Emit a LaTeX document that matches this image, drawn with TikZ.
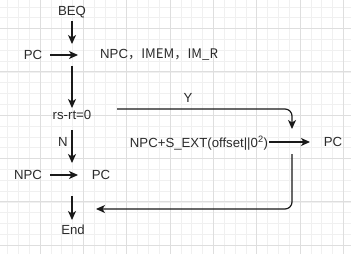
\documentclass[tikz,border=0pt]{standalone}
\usepackage{fontspec}
\setmainfont{Liberation Sans}
\newfontfamily\cjk{Noto Sans CJK SC}
\usetikzlibrary{arrows.meta}
\definecolor{txt}{HTML}{2B2B2B}
\definecolor{ln}{HTML}{1A1A1A}
\definecolor{gridmajor}{HTML}{DEDEDE}
\definecolor{gridminor}{HTML}{F0F0F0}
\begin{document}
\begin{tikzpicture}[x=1pt,y=-1pt,
  lbl/.style={font=\fontsize{13.2}{15}\selectfont, text=txt, inner sep=0pt},
  flow/.style={draw=ln, line width=1.2pt, -{Stealth[length=9pt,width=8pt,inset=2.5pt]}},
  gmin/.style={draw=gridminor, line width=0.6pt},
  gmaj/.style={draw=gridmajor, line width=0.8pt}]
\useasboundingbox (0,0) rectangle (351,254);
\fill[white] (0,0) rectangle (351,254);
% background grid
\foreach \k in {-4,...,29} {
  \draw[gmin] ({40+10.833*\k},0) -- ++(0,254);
  \draw[gmin] (0,{28.5+10.833*\k}) -- ++(351,0);
}
\foreach \k in {-1,...,7} {
  \draw[gmaj] ({40+43.33*\k},0) -- ++(0,254);
  \draw[gmaj] (0,{28.5+43.33*\k}) -- ++(351,0);
}

% labels
\node[lbl] (beq) at (72,12) {BEQ};
\node[lbl] (pc1) at (33,55) {PC};
\node[lbl,anchor=west] (fetch) at (100,55) {NPC\cjk{，}IMEM\cjk{，}IM\_R};
\node[lbl] (cmp) at (72,115) {rs-rt=0};
\node[lbl] (ylab) at (188,98) {Y};
\node[lbl] (nlab) at (63,142) {N};
\node[lbl] (sum) at (199,143) {NPC+S\_EXT(offset||0\textsuperscript{2})};
\node[lbl] (pc3) at (333,142) {PC};
\node[lbl] (npc) at (28,175) {NPC};
\node[lbl] (pc2) at (101,175) {PC};
\node[lbl] (fin) at (73,230) {End};

% free connector ends
\coordinate (t1) at (72,44);
\coordinate (t2) at (78,55);
\coordinate (s1) at (72,66);
\coordinate (t3) at (72,108);
\coordinate (s2) at (117,109);
\coordinate (t4) at (292,129);
\coordinate (s3) at (72,130);
\coordinate (t5) at (72,163);
\coordinate (t6) at (78,175);
\coordinate (s4) at (269,142);
\coordinate (t7) at (310,142);
\coordinate (s5) at (292,154);
\coordinate (t8) at (96,209);
\coordinate (s6) at (72,196);
\coordinate (t9) at (72,220);

% connectors
\draw[flow] (beq.south) ++(0,3) -- (t1);
\draw[flow] (pc1.east) ++(8,0) -- (t2);
\draw[flow] (s1) -- (t3);
\draw[flow, rounded corners=7pt] (s2) -| (t4);
\draw[flow] (s3) -- (t5);
\draw[flow] (npc.east) ++(8,0) -- (t6);
\draw[flow] (s4) -- (t7);
\draw[flow, rounded corners=7pt] (s5) |- (t8);
\draw[flow] (s6) -- (t9);
\end{tikzpicture}
\end{document}
